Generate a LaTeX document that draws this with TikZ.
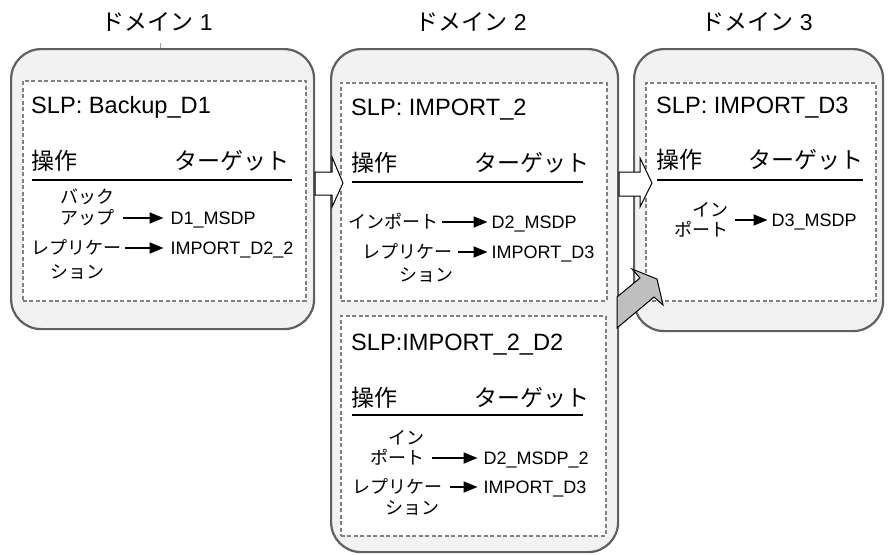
\documentclass[tikz,border=0pt]{standalone}
\usepackage{fontspec}
\setmainfont{Liberation Sans}
\newfontfamily\jp{Noto Sans CJK JP}
\usetikzlibrary{arrows.meta,calc}
\definecolor{domfill}{HTML}{F2F2F2}
\definecolor{domline}{HTML}{606060}
\definecolor{dashcol}{HTML}{808080}
\definecolor{greyarrow}{HTML}{BFBFBF}
\begin{document}
\begin{tikzpicture}[x=1pt,y=-1pt,
  dombox/.style={draw=domline, line width=2.2pt, fill=domfill, rounded corners=30pt, anchor=north west, inner sep=0pt},
  slpbox/.style={draw=dashcol, line width=1.8pt, dash pattern=on 4pt off 2.5pt, fill=white, anchor=north west, inner sep=0pt},
  domtitle/.style={font=\fontsize{23}{27}\selectfont, inner sep=0pt, anchor=base},
  slptext/.style={font=\fontsize{23.6}{27}\selectfont, inner sep=0pt, anchor=base west},
  hdrtext/.style={font=\fontsize{23}{27}\selectfont\jp, inner sep=0pt},
  uline/.style={line width=2pt, black},
  lbltext/.style={font=\fontsize{18}{21}\selectfont, inner sep=0pt, text height=13pt, text depth=0pt},
  jlbltext/.style={lbltext, font=\fontsize{18}{21}\selectfont\jp},
  actarrow/.style={-{Triangle[length=14pt,width=11pt]}, line width=1.8pt},
  hollowarrow/.style={draw=black, line width=1pt, fill=white, line join=miter},
  greyblock/.style={draw=black, line width=1pt, fill=greyarrow, line join=miter}
]
\useasboundingbox (0,0) rectangle (890,554);

% titles
\node[domtitle] (t1) at (157,30) {{\jp ドメイン} 1};
\node[domtitle] (t2) at (471,30) {{\jp ドメイン} 2};
\node[domtitle] (t3) at (757,30) {{\jp ドメイン} 3};
\draw[domline!60, line width=1pt] (160,43) -- (160,48);

% domains
\node[dombox, minimum width=303pt, minimum height=280pt] (d1) at (10,48) {};
\node[dombox, minimum width=287pt, minimum height=503pt] (d2) at (330,48) {};
\node[dombox, minimum width=249pt, minimum height=282pt] (d3) at (633,48) {};

% SLP boxes
\node[slpbox, minimum width=283pt, minimum height=220pt] (s1) at (22,80) {};
\node[slpbox, minimum width=266pt, minimum height=218pt] (s2a) at (340,82) {};
\node[slpbox, minimum width=265pt, minimum height=220pt] (s2b) at (340,315) {};
\node[slpbox, minimum width=230pt, minimum height=218pt] (s3) at (645,82) {};

% SLP titles
\node[slptext] (n1) at (31,113) {SLP: Backup\_D1};
\node[slptext] (n2a) at (351,115) {SLP: IMPORT\_2};
\node[slptext] (n2b) at (351,350) {SLP:IMPORT\_2\_D2};
\node[slptext] (n3) at (656,113) {SLP: IMPORT\_D3};

% headers
\node[hdrtext, anchor=base west] (h1o) at (31.5,169.5) {操作};
\node[hdrtext, anchor=base east] (h1t) at (290,169.5) {ターゲット};
\draw[uline] (32,179.5) -- (292,179.5);
\node[hdrtext, anchor=base west] (h2ao) at (351.5,171.5) {操作};
\node[hdrtext, anchor=base east] (h2at) at (590,171.5) {ターゲット};
\draw[uline] (352,182) -- (583,182);
\node[hdrtext, anchor=base west] (h2bo) at (351.5,406.5) {操作};
\node[hdrtext, anchor=base east] (h2bt) at (590,406.5) {ターゲット};
\draw[uline] (352,415) -- (583,415);
\node[hdrtext, anchor=base west] (h3o) at (656.5,168.5) {操作};
\node[hdrtext, anchor=base east] (h3t) at (864,168.5) {ターゲット};
\draw[uline] (657,180) -- (863,180);

% domain 1 actions
\node[jlbltext] (a1a) at (87,197) {バック};
\node[jlbltext] (a1b) at (87,218) {アップ};
\node[lbltext, anchor=west] (g1a) at (170.5,218) {D1\_MSDP};
\draw[actarrow] ([xshift=9pt]g1a.west -| a1b.east) -- ([xshift=-7pt]g1a.west);
\node[jlbltext] (r1a) at (76,248) {レプリケー};
\node[jlbltext] (r1b) at (77,272) {ション};
\node[lbltext, anchor=west] (g1b) at (170.5,248) {IMPORT\_D2\_2};
\draw[actarrow] ([xshift=4pt]g1b.west -| r1a.east) -- ([xshift=-7pt]g1b.west);

% domain 2 top actions
\node[jlbltext, anchor=east] (a2a) at (439,222) {インポート};
\node[lbltext, anchor=west] (g2a) at (491.5,222) {D2\_MSDP};
\draw[actarrow] ([xshift=3pt]g2a.west -| a2a.east) -- ([xshift=-4pt]g2a.west);
\node[jlbltext, anchor=east] (r2a) at (453,252) {レプリケー};
\node[jlbltext, anchor=east] (r2b) at (454,275) {ション};
\node[lbltext, anchor=west] (g2b) at (491.5,252) {IMPORT\_D3};
\draw[actarrow] ([xshift=5pt]g2b.west -| r2a.east) -- ([xshift=-4pt]g2b.west);

% domain 2 bottom actions
\node[jlbltext, anchor=east] (a3a) at (425,438) {イン};
\node[jlbltext, anchor=east] (a3b) at (425,458) {ポート};
\node[lbltext, anchor=west] (g3a) at (483.5,458) {D2\_MSDP\_2};
\draw[actarrow] ([xshift=7pt]g3a.west -| a3b.east) -- ([xshift=-6pt]g3a.west);
\node[jlbltext, anchor=east] (r3a) at (443,487) {レプリケー};
\node[jlbltext, anchor=east] (r3b) at (440,508) {ション};
\node[lbltext, anchor=west] (g3b) at (483.5,487) {IMPORT\_D3};
\draw[actarrow] ([xshift=7pt]g3b.west -| r3a.east) -- ([xshift=-6pt]g3b.west);

% domain 3 actions
\node[jlbltext, anchor=east] (a4a) at (729,210) {イン};
\node[jlbltext, anchor=east] (a4b) at (729,230) {ポート};
\node[lbltext, anchor=west] (g4a) at (771.5,220) {D3\_MSDP};
\draw[actarrow] ([xshift=6pt]g4a.west -| a4b.east) -- ([xshift=-4pt]g4a.west);

% hollow arrows between domains
\draw[hollowarrow] (d1.east |- 0,172) -- (332,172) -- (332,157) -- (343,183) -- (332,207) -- (332,195) -- (d1.east |- 0,195) -- cycle;
\draw[hollowarrow] (d2.east |- 0,172) -- (640,172) -- (640,158) -- (652,183) -- (640,207) -- (640,196) -- (d2.east |- 0,196) -- cycle;

% grey block arrow
\draw[greyblock] (617,328) -- (617,297) -- (640,278) -- (632,269) -- (657,279) -- (663,305) -- (654,297) -- cycle;
\end{tikzpicture}
\end{document}
